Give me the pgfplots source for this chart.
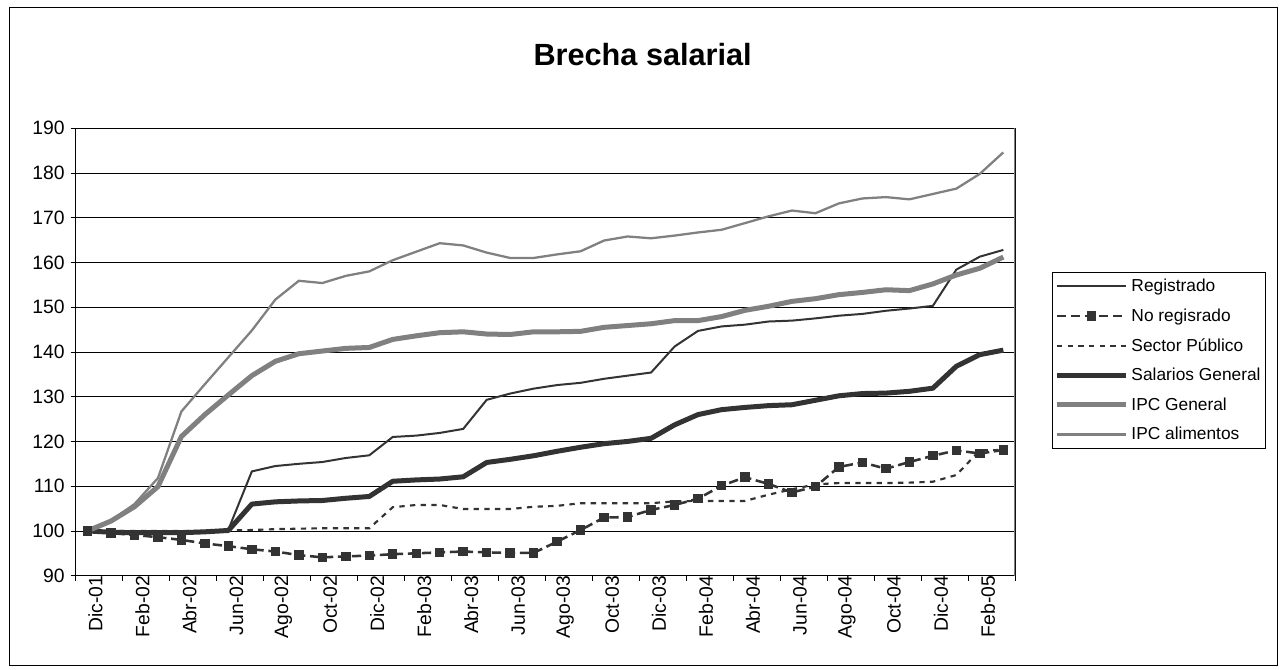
\documentclass[border=0pt]{standalone}
\usepackage{pgfplots}
\pgfplotsset{compat=1.18}
\usepackage{pgfplotstable}
\usepackage{fontspec}
\setmainfont{Liberation Sans}
\definecolor{dk}{HTML}{333333}
\definecolor{gy}{HTML}{808080}
\pgfplotstableread{
x reg noreg sp sal ipc ali
0 100.0 100.0 100.0 100.0 100.0 100.0
1 99.8 99.5 100.0 99.7 102.2 102.3
2 99.7 99.1 100.0 99.6 105.4 106.0
3 99.6 98.6 100.0 99.6 109.9 111.8
4 99.7 98.0 100.0 99.6 121.1 126.7
5 99.9 97.2 100.0 99.8 126.0 132.8
6 100.3 96.6 100.1 100.1 130.4 138.8
7 113.3 95.9 100.2 106.0 134.7 144.8
8 114.5 95.4 100.4 106.5 137.9 151.7
9 115.0 94.6 100.5 106.7 139.6 155.9
10 115.4 94.1 100.6 106.8 140.2 155.4
11 116.3 94.3 100.6 107.3 140.8 157.0
12 116.9 94.5 100.6 107.7 141.0 158.0
13 121.0 94.8 105.3 111.1 142.8 160.5
14 121.3 95.0 105.8 111.4 143.6 162.4
15 121.9 95.2 105.8 111.6 144.3 164.3
16 122.8 95.4 104.9 112.1 144.5 163.8
17 129.3 95.2 104.9 115.3 144.0 162.2
18 130.7 95.1 104.9 116.0 143.9 161.0
19 131.8 95.1 105.4 116.8 144.5 161.0
20 132.6 97.6 105.6 117.8 144.5 161.8
21 133.1 100.2 106.2 118.7 144.6 162.5
22 134.0 103.0 106.2 119.5 145.5 164.9
23 134.7 103.1 106.2 120.0 145.9 165.8
24 135.4 104.7 106.2 120.7 146.3 165.4
25 141.2 105.8 106.6 123.7 147.0 166.0
26 144.7 107.2 106.7 126.0 147.0 166.7
27 145.7 110.1 106.7 127.1 147.9 167.3
28 146.1 112.0 106.7 127.6 149.3 168.8
29 146.8 110.5 108.1 128.0 150.2 170.3
30 147.0 108.6 109.3 128.2 151.3 171.6
31 147.5 109.9 110.4 129.2 151.9 171.0
32 148.1 114.3 110.7 130.2 152.8 173.2
33 148.5 115.3 110.7 130.7 153.3 174.3
34 149.2 113.9 110.7 130.8 153.9 174.6
35 149.7 115.4 110.8 131.2 153.7 174.1
36 150.3 116.8 111.0 131.9 155.2 175.3
37 158.4 118.0 112.5 136.8 157.2 176.5
38 161.3 117.3 118.0 139.4 158.7 179.8
39 162.8 118.1 118.1 140.4 161.2 184.6
}\data
\newcommand\tfont{\fontsize{14.5}{17}\selectfont}
\begin{document}
\begin{tikzpicture}
\fill[white] (0pt,0pt) rectangle (960pt,501.75pt);
\draw[black,line width=0.75pt] (6.75pt,3pt) rectangle (957.75pt,495.75pt);
\node[font=\bfseries\fontsize{23}{27}\selectfont] at (482pt,460.5pt) {Brecha salarial};
\begin{axis}[
  at={(56.8pt,70pt)}, anchor=south west,
  scale only axis, width=704.5pt, height=335.6pt,
  xmin=-0.5, xmax=39.5, ymin=90, ymax=190,
  ytick={90,100,...,190},
  xtick={-0.5,1.5,...,39.5}, xticklabels={},
  extra x ticks={0,2,...,38},
  extra x tick labels={Dic-01,Feb-02,Abr-02,Jun-02,Ago-02,Oct-02,Dic-02,Feb-03,Abr-03,Jun-03,Ago-03,Oct-03,Dic-03,Feb-04,Abr-04,Jun-04,Ago-04,Oct-04,Dic-04,Feb-05},
  extra x tick style={major tick length=0pt, grid=none},
  xtick pos=bottom, ytick pos=left,
  tick align=outside, major tick length=3.75pt,
  tick style={black, line width=0.6pt},
  xticklabel style={rotate=90, anchor=east, font=\tfont, inner sep=0pt, yshift=-6pt},
  yticklabel style={font=\tfont, xshift=-1pt},
  /pgf/number format/assume math mode=true,
  ymajorgrids, grid style={black, line width=0.6pt},
  axis line style={black, line width=0.75pt},
  legend cell align=left,
  legend image code/.code={\draw[mark repeat=2,mark phase=2,#1] plot coordinates {(0pt,0pt) (26pt,0pt) (52pt,0pt)};},
  legend style={at={(1.0394,0.6788)}, anchor=north west, draw=black, line width=0.6pt,
    font=\fontsize{13}{15.5}\selectfont, row sep=7.3pt, inner xsep=1.5pt, inner ysep=3pt,
    nodes={inner xsep=2pt}},
]
\addplot[dk, line width=1.5pt] table[x=x,y=reg] {\data};
\addlegendentry{Registrado}
\addplot[dk, line width=1.9pt, dash pattern=on 7pt off 3.5pt, mark=square*, mark size=2.6pt, mark options={solid}] table[x=x,y=noreg] {\data};
\addlegendentry{No regisrado}
\addplot[dk, line width=1.6pt, dash pattern=on 4pt off 4pt] table[x=x,y=sp] {\data};
\addlegendentry{Sector Público}
\addplot[dk, line width=3.75pt, line join=round] table[x=x,y=sal] {\data};
\addlegendentry{Salarios General}
\addplot[gy, line width=3.75pt, line join=round] table[x=x,y=ipc] {\data};
\addlegendentry{IPC General}
\addplot[gy, line width=1.7pt] table[x=x,y=ali] {\data};
\addlegendentry{IPC alimentos}
\draw[gy, line width=0.9pt] (rel axis cs:1,0) -- (rel axis cs:1,1);
\end{axis}
\end{tikzpicture}
\end{document}
